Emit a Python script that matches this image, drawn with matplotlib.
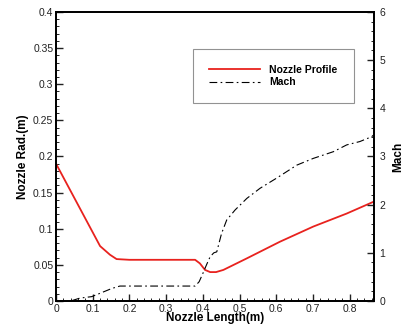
import matplotlib
matplotlib.use('Agg')
import matplotlib.pyplot as plt
from matplotlib.ticker import MultipleLocator
import numpy as np

plt.rcParams['font.family'] = ['Liberation Sans', 'DejaVu Sans']

# nozzle radius profile (m) vs length (m)
x_noz = [0, 0.05, 0.1, 0.12, 0.129, 0.147, 0.165, 0.2, 0.3, 0.379, 0.392, 0.406,
         0.42, 0.436, 0.456, 0.52, 0.61, 0.701, 0.792, 0.866]
r_noz = [0.19, 0.1425, 0.095, 0.076, 0.072, 0.064, 0.058, 0.057, 0.057, 0.057, 0.052, 0.043,
         0.040, 0.040, 0.043, 0.059, 0.082, 0.103, 0.121, 0.1375]

# mach number along the nozzle
x_mach = [0, 0.04, 0.065, 0.097, 0.12, 0.152, 0.174, 0.25, 0.35, 0.379, 0.39, 0.40, 0.41,
          0.42, 0.43, 0.438, 0.451, 0.465, 0.488, 0.52, 0.556, 0.601, 0.656, 0.701,
          0.756, 0.792, 0.828, 0.86, 0.866]
mach = [0, 0, 0.06, 0.09, 0.16, 0.26, 0.31, 0.31, 0.31, 0.31, 0.4, 0.57, 0.75,
        0.92, 1.0, 1.02, 1.4, 1.68, 1.89, 2.13, 2.34, 2.55, 2.82, 2.96,
        3.10, 3.24, 3.31, 3.41, 3.45]

fig = plt.figure(figsize=(4.09, 3.32), dpi=100)
ax = fig.add_axes([0.137, 0.0934, 0.777, 0.8706])
ax2 = ax.twinx()

l1, = ax.plot(x_noz, r_noz, color='#e8221e', lw=1.3, label='Nozzle Profile')
l2, = ax2.plot(x_mach, mach, color='black', lw=0.8, dashes=(7, 3, 1.5, 3), label='Mach')

ax.set_xlim(0, 0.866)
ax.set_ylim(0, 0.4)
ax2.set_ylim(0, 6)

ax.xaxis.set_minor_locator(MultipleLocator(0.02))
ax.yaxis.set_minor_locator(MultipleLocator(0.01))
ax2.yaxis.set_major_locator(MultipleLocator(1))
ax2.yaxis.set_minor_locator(MultipleLocator(0.2))

ax.set_xticks([0, 0.1, 0.2, 0.3, 0.4, 0.5, 0.6, 0.7, 0.8])
ax.set_xticklabels(['0', '0.1', '0.2', '0.3', '0.4', '0.5', '0.6', '0.7', '0.8'])
ax.set_yticks([0, 0.05, 0.1, 0.15, 0.2, 0.25, 0.3, 0.35, 0.4])
ax.set_yticklabels(['0', '0.05', '0.1', '0.15', '0.2', '0.25', '0.3', '0.35', '0.4'])

for a in (ax, ax2):
    a.tick_params(which='major', direction='in', length=5, width=1, labelsize=7.5, pad=2, colors='#222222')
    a.tick_params(which='minor', direction='in', length=2.5, width=0.6)
    for s in a.spines.values():
        s.set_linewidth(1.3)
ax.tick_params(axis='y', right=False)
ax2.tick_params(axis='y', left=False, pad=4)

ax.set_xlabel('Nozzle Length(m)', fontsize=8.5, fontweight='bold', labelpad=-1)
ax.set_ylabel('Nozzle Rad.(m)', fontsize=8.5, fontweight='bold', labelpad=3)
ax2.set_ylabel('Mach', fontsize=8.5, fontweight='bold', labelpad=5)

leg = ax.legend(handles=[l1, l2], loc='upper left', bbox_to_anchor=(0.431, 0.685, 0.506, 0.187),
                mode='expand', prop={'weight': 'bold', 'size': 7.5},
                fancybox=False, edgecolor='#777777', handlelength=4.9, borderpad=1.5,
                labelspacing=0.25, handletextpad=0.9, borderaxespad=0)
leg.get_frame().set_linewidth(0.8)
leg.set_zorder(5)

fig.savefig('out.png', dpi=100)
